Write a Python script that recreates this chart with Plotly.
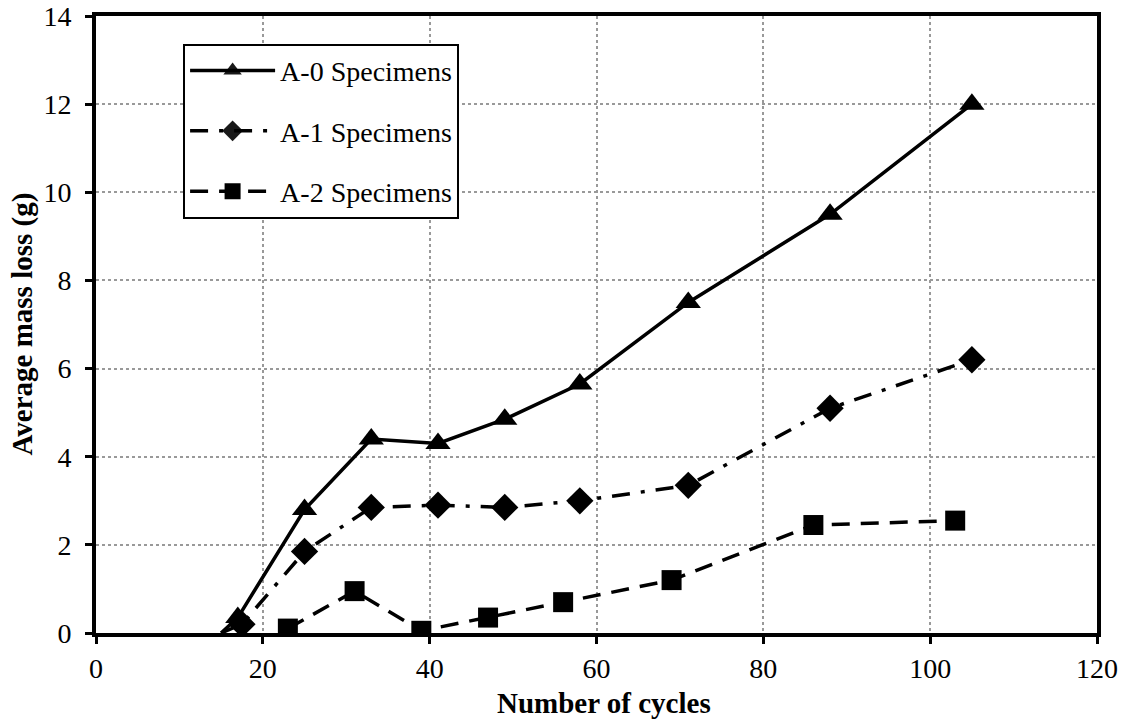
import plotly.graph_objects as go

a0_x = [15, 17, 25, 33, 41, 49, 58, 71, 88, 105]
a0_y = [0, 0.35, 2.8, 4.4, 4.3, 4.85, 5.65, 7.5, 9.5, 12.0]
a1_x = [15, 17.5, 25, 33, 41, 49, 58, 71, 88, 105]
a1_y = [0, 0.2, 1.85, 2.85, 2.9, 2.85, 3.0, 3.35, 5.1, 6.2]
a2_x = [23, 31, 39, 47, 56, 69, 86, 103]
a2_y = [0.1, 0.95, 0.05, 0.35, 0.7, 1.2, 2.45, 2.55]

x_ticks = [0, 20, 40, 60, 80, 100, 120]
y_ticks = [0, 2, 4, 6, 8, 10, 12, 14]

font = "Liberation Serif, Times New Roman, serif"
fs = 28

fig = go.Figure()
fig.add_trace(go.Scatter(
    x=a0_x, y=a0_y, name="A-0 Specimens", mode="lines+markers",
    line=dict(color="black", width=3.5),
    marker=dict(symbol="triangle-up", size=22, color="black",
                opacity=[0] + [1] * (len(a0_x) - 1)),
    legendgroup="a0"))
fig.add_trace(go.Scatter(
    x=a1_x, y=a1_y, name="A-1 Specimens", mode="lines+markers",
    line=dict(color="black", width=3.5, dash="18px,11px,4px,11px"),
    marker=dict(symbol="diamond", size=21, color="black",
                opacity=[0] + [1] * (len(a1_x) - 1)),
    legendgroup="a1"))
fig.add_trace(go.Scatter(
    x=a2_x, y=a2_y, name="A-2 Specimens", mode="lines+markers",
    line=dict(color="black", width=3.5, dash="18px,11px"),
    marker=dict(symbol="square", size=20, color="black"),
    legendgroup="a2"))

fig.update_layout(
    width=1128, height=723,
    margin=dict(l=96, r=31, t=16, b=90),
    paper_bgcolor="white", plot_bgcolor="white",
    font=dict(family=font, size=fs, color="black"),
    showlegend=True,
    legend=dict(
        x=0.087, y=0.955, xanchor="left", yanchor="top",
        bordercolor="black", borderwidth=2, bgcolor="white",
        font=dict(family=font, size=fs, color="black"),
        tracegroupgap=21, itemwidth=85,
    ),
    xaxis=dict(
        range=[0, 120], tickvals=x_ticks, ticks="outside", ticklen=7, tickwidth=3,
        tickcolor="black", showline=True, linecolor="black", linewidth=4, mirror=True,
        showgrid=True, gridcolor="#999999", griddash="dot", gridwidth=1.5,
        zeroline=False, automargin=False, ticklabelstandoff=0,
        ticklabeloverflow="allow", tickfont=dict(family=font, size=fs),
    ),
    yaxis=dict(
        range=[0, 14], tickvals=y_ticks, ticks="outside", ticklen=7, tickwidth=3,
        tickcolor="black", showline=True, linecolor="black", linewidth=4, mirror=True,
        showgrid=True, gridcolor="#999999", griddash="dot", gridwidth=1.5,
        zeroline=False, automargin=False, ticklabelstandoff=8,
        ticklabeloverflow="allow", tickfont=dict(family=font, size=fs),
    ),
    annotations=[
        dict(text="<b>Number of cycles</b>", xref="paper", yref="paper",
             x=0.5075, y=0, xanchor="center", yanchor="middle", yshift=-70,
             showarrow=False, font=dict(family=font, size=29, color="black")),
        dict(text="<b>Average mass loss (g)</b>", xref="paper", yref="paper",
             x=0, y=0.5, xanchor="center", yanchor="middle", xshift=-74,
             textangle=-90, showarrow=False,
             font=dict(family=font, size=29, color="black")),
    ],
)

fig.write_html("out.html", config={"displayModeBar": False},
               post_script="document.body.style.margin='0';")
